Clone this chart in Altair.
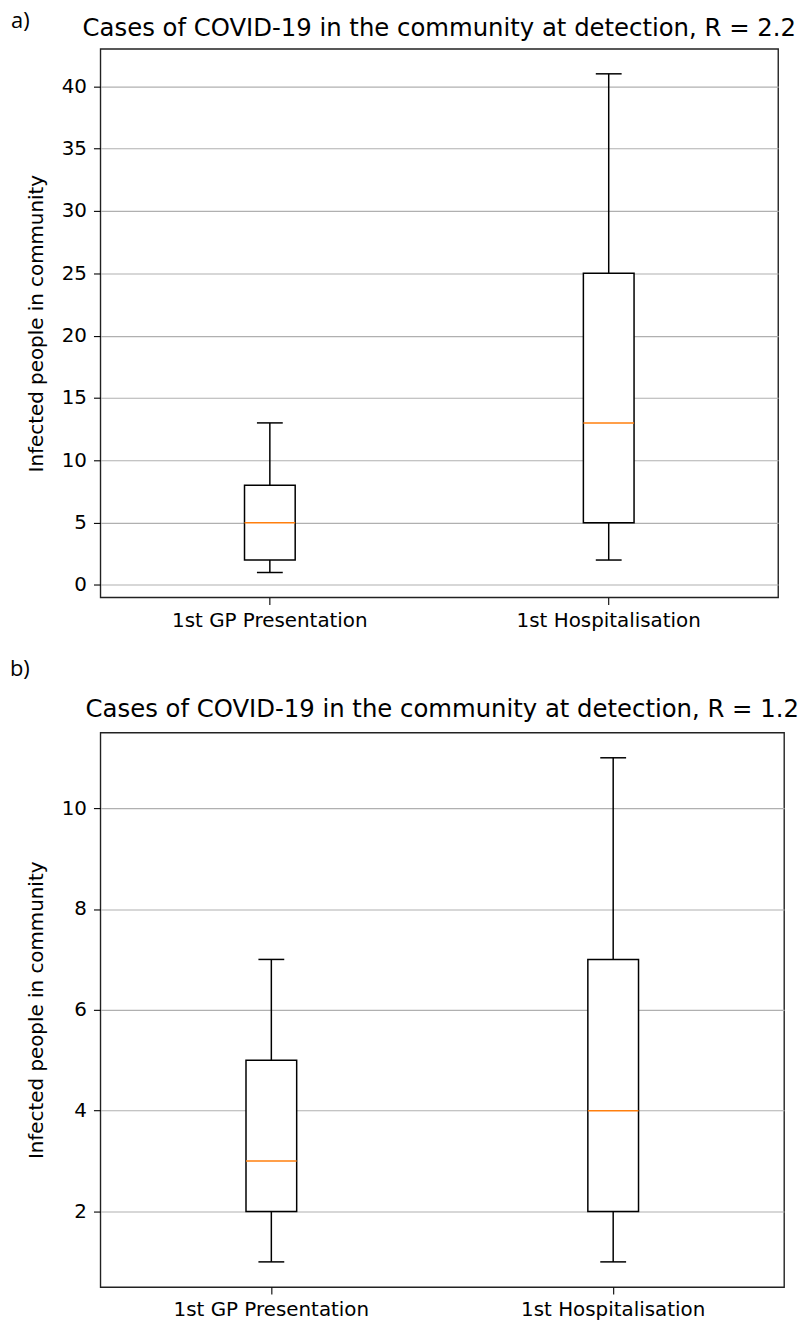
import altair as alt
import pandas as pd

categories = ["1st GP Presentation", "1st Hospitalisation"]

# Panel a (R = 2.2)
a_low = [1, 2]
a_q1 = [2, 5]
a_med = [5, 13]
a_q3 = [8, 25]
a_high = [13, 41]
a_ticks = [0, 5, 10, 15, 20, 25, 30, 35, 40]
a_domain = [-1, 43]

# Panel b (R = 1.2)
b_low = [1, 1]
b_q1 = [2, 2]
b_med = [3, 4]
b_q3 = [5, 7]
b_high = [7, 11]
b_ticks = [2, 4, 6, 8, 10]
b_domain = [0.5, 11.5]

title_a = "Cases of COVID-19 in the community at detection, R = 2.2"
title_b = "Cases of COVID-19 in the community at detection, R = 1.2"
y_title = "Infected people in community"

FONT = "DejaVu Sans"
LINE_W = 1.5


def panel(lo, q1, med, q3, hi, ticks, domain, title, label, lx, ly, ty, w, h):
    df = pd.DataFrame({"cat": categories, "lo": lo, "q1": q1, "med": med, "q3": q3, "hi": hi})
    x = alt.X(
        "cat:N",
        sort=categories,
        scale=alt.Scale(type="band", paddingInner=0, paddingOuter=0),
        axis=alt.Axis(title=None, labelAngle=0, grid=False, bandPosition=0.5,
                      tickSize=7, labelPadding=6, domain=False, labelLimit=0),
    )
    ys = alt.Scale(domain=domain, nice=False, zero=False)
    yaxis = alt.Axis(values=ticks, title=y_title, grid=True, gridColor="#b0b0b0",
                     gridWidth=1.1, tickSize=7, labelPadding=7, titlePadding=15,
                     domain=False)
    base = alt.Chart(df)
    w_lo = base.mark_rule(color="black", strokeWidth=LINE_W).encode(
        x=x, y=alt.Y("lo:Q", scale=ys, axis=yaxis), y2="q1:Q")
    w_hi = base.mark_rule(color="black", strokeWidth=LINE_W).encode(
        x=x, y=alt.Y("q3:Q", scale=ys, axis=yaxis), y2="hi:Q")
    box = base.mark_bar(size=51, fill="white", stroke="black", strokeWidth=LINE_W).encode(
        x=x, y=alt.Y("q1:Q", scale=ys, axis=yaxis), y2="q3:Q")
    medl = base.mark_tick(size=51, thickness=LINE_W, color="#ff7f0e", opacity=1).encode(
        x=x, y=alt.Y("med:Q", scale=ys, axis=yaxis))
    cap_lo = base.mark_tick(size=26, thickness=LINE_W, color="black", opacity=1).encode(
        x=x, y=alt.Y("lo:Q", scale=ys, axis=yaxis))
    cap_hi = base.mark_tick(size=26, thickness=LINE_W, color="black", opacity=1).encode(
        x=x, y=alt.Y("hi:Q", scale=ys, axis=yaxis))
    lab = alt.Chart(pd.DataFrame({"t": [label]})).mark_text(
        font="Open Sans", fontSize=22, align="left", baseline="alphabetic", color="black"
    ).encode(text="t:N", x=alt.value(lx), y=alt.value(ly))
    ttl = alt.Chart(pd.DataFrame({"t": [title]})).mark_text(
        font=FONT, fontSize=24.5, align="center", baseline="alphabetic", color="black"
    ).encode(text="t:N", x=alt.value(w / 2), y=alt.value(ty))
    return alt.layer(w_lo, w_hi, box, medl, cap_lo, cap_hi, lab, ttl).properties(
        width=w, height=h,
    )


pa = panel(a_low, a_q1, a_med, a_q3, a_high, a_ticks, a_domain, title_a, "a)", -90, -21, -13, 682, 552)
pb = panel(b_low, b_q1, b_med, b_q3, b_high, b_ticks, b_domain, title_b, "b)", -91, -57, -16, 688, 558)

chart = alt.vconcat(pa, pb, spacing=26).resolve_scale(y="independent").properties(
    padding={"top": -3, "left": 1, "right": 1, "bottom": 1}
).configure_view(stroke="#222222", strokeWidth=1.4).configure_axis(
    labelFont=FONT, labelFontSize=20, labelColor="black",
    titleFont=FONT, titleFontSize=20, titleFontWeight="normal", titleColor="black",
    tickColor="black", tickWidth=1.1,
)

chart.save("out.html", embed_options={"renderer": "svg", "actions": False})
